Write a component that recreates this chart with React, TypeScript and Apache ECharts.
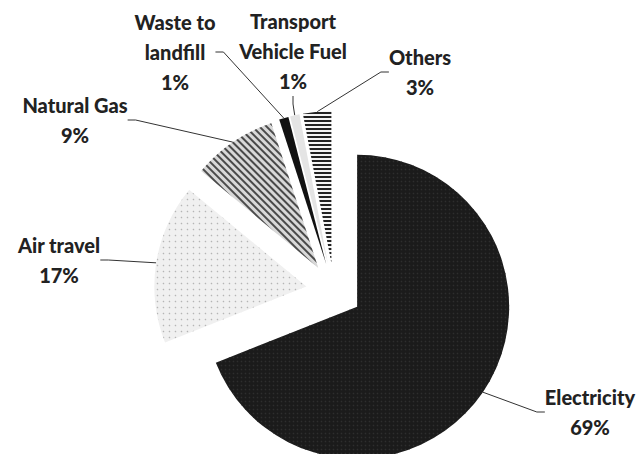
import React, { useEffect, useRef } from "react";
import * as echarts from "echarts";

const categories = [
  "Electricity",
  "Air travel",
  "Natural Gas",
  "Waste to\nlandfill",
  "Transport\nVehicle Fuel",
  "Others",
];
const shares = [69, 17, 9, 1, 1, 3];

// layout (not data): pie geometry and label block centers
const PIE_CENTER = [334, 291];
const PIE_RADIUS = 152;
const EXPLODE = 28;
const labelPos = [
  [590, 412],
  [59, 260],
  [75, 120],
  [175, 52],
  [293, 51],
  [420, 72],
];

const sliceStyles: any[] = [
  {
    color: "#1b1b1b",
    decal: {
      symbol: "circle",
      symbolSize: 0.5,
      color: "#2e2e2e",
      dashArrayX: [3, 1],
      dashArrayY: [3, 1],
    },
  },
  {
    color: "#f0f0f0",
    decal: {
      symbol: "circle",
      symbolSize: 0.5,
      color: "#b5b5b5",
      dashArrayX: [3, 3],
      dashArrayY: [3, 3],
    },
  },
  {
    color: "#d8d8d8",
    decal: {
      symbol: "rect",
      symbolSize: 1,
      color: "#4a4a4a",
      dashArrayX: [1, 0],
      dashArrayY: [2, 3],
      rotation: Math.PI / 4,
    },
  },
  { color: "#111111" },
  { color: "#e4e4e4" },
  {
    color: "#f4f4f4",
    decal: {
      symbol: "rect",
      symbolSize: 1,
      color: "#222222",
      dashArrayX: [1, 0],
      dashArrayY: [2, 2],
      rotation: 0,
    },
  },
];

function buildSeries() {
  const total = shares.reduce((a, b) => a + b, 0);
  let cum = 0;
  return shares.map((v, owner) => {
    const midDeg = 90 - (360 * (cum + v / 2)) / total;
    cum += v;
    const rad = (midDeg * Math.PI) / 180;
    const cx = PIE_CENTER[0] + EXPLODE * Math.cos(rad);
    const cy = PIE_CENTER[1] - EXPLODE * Math.sin(rad);
    return {
      type: "pie",
      center: [cx, cy],
      radius: PIE_RADIUS,
      startAngle: 90,
      clockwise: true,
      avoidLabelOverlap: false,
      percentPrecision: 0,
      silent: true,
      emphasis: { disabled: true },
      label: {
        show: true,
        formatter: "{b}\n{d}%",
        fontFamily: "Lato",
        fontWeight: 900,
        fontSize: 20,
        lineHeight: 30,
        color: "#222222",
      },
      labelLine: {
        show: true,
        length: 15,
        length2: 8,
        lineStyle: { color: "#333333", width: 1 },
      },
      labelLayout: (params: any) => {
        const p = labelPos[params.dataIndex];
        return {
          x: p[0],
          y: p[1],
          align: "center",
          verticalAlign: "middle",
        };
      },
      data: categories.map((name, i) =>
        i === owner
          ? { name, value: shares[i], itemStyle: sliceStyles[i] }
          : {
              name,
              value: shares[i],
              itemStyle: { color: "rgba(0,0,0,0)", borderWidth: 0 },
              label: { show: false },
              labelLine: { show: false },
            }
      ),
    };
  });
}

export default function App() {
  const ref = useRef<HTMLDivElement>(null);
  useEffect(() => {
    document.body.style.margin = "0";
    const chart = echarts.init(ref.current!, null, { renderer: "svg" });
    chart.setOption({
      animation: false,
      backgroundColor: "#ffffff",
      series: buildSeries(),
    });
    return () => chart.dispose();
  }, []);
  return <div ref={ref} style={{ width: 641, height: 454 }} />;
}
